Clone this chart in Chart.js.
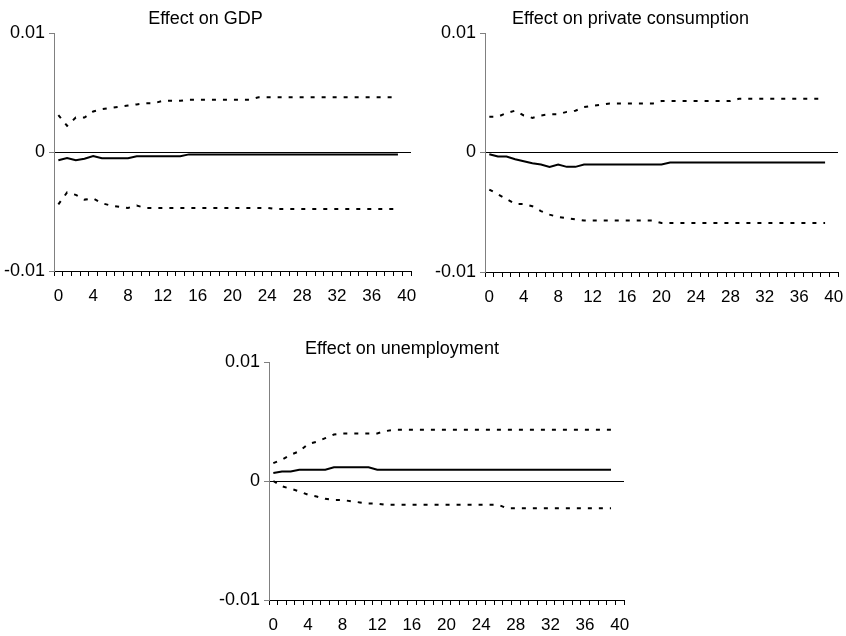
<!DOCTYPE html>
<html>
<head>
<meta charset="utf-8">
<script src="https://cdn.jsdelivr.net/npm/chart.js@4/dist/chart.umd.min.js"></script>
<style>
  html, body { margin: 0; padding: 0; background: #fff; overflow: hidden; }
  body { width: 846px; height: 636px; position: relative; }
  canvas { position: absolute; }
</style>
</head>
<body>
<canvas id="gdpChart" width="446" height="310" style="left:0px;top:0px;width:446px;height:310px"></canvas>
<canvas id="consChart" width="446" height="310" style="left:423px;top:0px;width:446px;height:310px"></canvas>
<canvas id="unempChart" width="486" height="316" style="left:180px;top:320px;width:486px;height:316px"></canvas>
<script>
// quarters after the shock (41 categories, data for 0..39)
var periods = ['0','1','2','3','4','5','6','7','8','9','10','11','12','13','14','15','16','17','18','19',
  '20','21','22','23','24','25','26','27','28','29','30','31','32','33','34','35','36','37','38','39','40'];
var yTicks = ['-0.01', '0', '0.01'];

// Effect on GDP
var gdpMid = [-0.0007,-0.0005,-0.0007,-0.00056,-0.00034,-0.00053,-0.00053,-0.00053,-0.00053,-0.00036,
  -0.00036,-0.00036,-0.00036,-0.00036,-0.00036,-0.0002,-0.0002,-0.0002,-0.0002,-0.0002,
  -0.0002,-0.0002,-0.0002,-0.0002,-0.0002,-0.0002,-0.0002,-0.0002,-0.0002,-0.0002,
  -0.0002,-0.0002,-0.0002,-0.0002,-0.0002,-0.0002,-0.0002,-0.0002,-0.0002,-0.0002];
var gdpUpper = [0.0031,0.0022,0.0029,0.0029,0.0034,0.0036,0.0037,0.0038,0.0039,0.004,
  0.0041,0.0041,0.0043,0.0043,0.0043,0.0044,0.0044,0.0044,0.0044,0.0044,
  0.0044,0.0044,0.0044,0.0046,0.0046,0.0046,0.0046,0.0046,0.0046,0.0046,
  0.0046,0.0046,0.0046,0.0046,0.0046,0.0046,0.0046,0.0046,0.0046,0.0046];
var gdpLower = [-0.0044,-0.0034,-0.0036,-0.004,-0.0039,-0.0043,-0.0045,-0.0046,-0.0047,-0.0045,
  -0.0047,-0.0047,-0.0047,-0.0047,-0.0047,-0.0047,-0.0047,-0.0047,-0.0047,-0.0047,
  -0.0047,-0.0047,-0.0047,-0.0047,-0.0047,-0.0048,-0.0048,-0.0048,-0.0048,-0.0048,
  -0.0048,-0.0048,-0.0048,-0.0048,-0.0048,-0.0048,-0.0048,-0.0048,-0.0048,-0.0048];

// Effect on private consumption
var consMid = [-0.00014,-0.00034,-0.00034,-0.00056,-0.00073,-0.0009,-0.001,-0.0012,-0.001,-0.0012,
  -0.0012,-0.001,-0.001,-0.001,-0.001,-0.001,-0.001,-0.001,-0.001,-0.001,
  -0.001,-0.00084,-0.00084,-0.00084,-0.00084,-0.00084,-0.00084,-0.00084,-0.00084,-0.00084,
  -0.00084,-0.00084,-0.00084,-0.00084,-0.00084,-0.00084,-0.00084,-0.00084,-0.00084,-0.00084];
var consUpper = [0.003,0.003,0.0033,0.0035,0.0031,0.0029,0.0031,0.0032,0.0032,0.0034,
  0.0035,0.0038,0.0039,0.004,0.0041,0.0041,0.0041,0.0041,0.0041,0.0041,
  0.0043,0.0043,0.0043,0.0043,0.0043,0.0043,0.0043,0.0043,0.0043,0.0045,
  0.0045,0.0045,0.0045,0.0045,0.0045,0.0045,0.0045,0.0045,0.0045,0.0045];
var consLower = [-0.0031,-0.0035,-0.0039,-0.0043,-0.0043,-0.0045,-0.0049,-0.0052,-0.0054,-0.0055,
  -0.0056,-0.0057,-0.0057,-0.0057,-0.0057,-0.0057,-0.0057,-0.0057,-0.0057,-0.0057,
  -0.0059,-0.0059,-0.0059,-0.0059,-0.0059,-0.0059,-0.0059,-0.0059,-0.0059,-0.0059,
  -0.0059,-0.0059,-0.0059,-0.0059,-0.0059,-0.0059,-0.0059,-0.0059,-0.0059,-0.0059];

// Effect on unemployment
var unempMid = [0.00067,0.0008,0.0008,0.00095,0.00095,0.00095,0.00095,0.00115,0.00115,0.00115,
  0.00115,0.00115,0.00095,0.00095,0.00095,0.00095,0.00095,0.00095,0.00095,0.00095,
  0.00095,0.00095,0.00095,0.00095,0.00095,0.00095,0.00095,0.00095,0.00095,0.00095,
  0.00095,0.00095,0.00095,0.00095,0.00095,0.00095,0.00095,0.00095,0.00095,0.00095];
var unempUpper = [0.0015,0.0018,0.0022,0.0025,0.0031,0.0033,0.0036,0.0039,0.004,0.004,
  0.004,0.004,0.004,0.0042,0.0043,0.0043,0.0043,0.0043,0.0043,0.0043,
  0.0043,0.0043,0.0043,0.0043,0.0043,0.0043,0.0043,0.0043,0.0043,0.0043,
  0.0043,0.0043,0.0043,0.0043,0.0043,0.0043,0.0043,0.0043,0.0043,0.0043];
var unempLower = [0,-0.00045,-0.00065,-0.00087,-0.00115,-0.0013,-0.0015,-0.0016,-0.0016,-0.0017,
  -0.0018,-0.0019,-0.0019,-0.002,-0.002,-0.002,-0.002,-0.002,-0.002,-0.002,
  -0.002,-0.002,-0.002,-0.002,-0.002,-0.002,-0.002,-0.0023,-0.0023,-0.0023,
  -0.0023,-0.0023,-0.0023,-0.0023,-0.0023,-0.0023,-0.0023,-0.0023,-0.0023,-0.0023];

var fontFamily = '"Liberation Sans", Arial, sans-serif';

function makePanel(id, title, mid, upper, lower, layout) {
  var ctx = document.getElementById(id).getContext('2d');
  return new Chart(ctx, {
    type: 'line',
    data: {
      labels: periods,
      datasets: [
        { data: upper, borderColor: '#000', borderWidth: 2, borderDash: [4, 7], pointRadius: 0, fill: false, tension: 0 },
        { data: mid, borderColor: '#000', borderWidth: 2, pointRadius: 0, fill: false, tension: 0 },
        { data: lower, borderColor: '#000', borderWidth: 2, borderDash: [4, 7], pointRadius: 0, fill: false, tension: 0 }
      ]
    },
    options: {
      responsive: false,
      animation: false,
      layout: { padding: { left: 0, top: 0, right: layout.right, bottom: layout.bottom } },
      plugins: {
        legend: { display: false },
        tooltip: { enabled: false },
        title: {
          display: true,
          text: title,
          color: '#000',
          font: { family: fontFamily, size: 18, weight: 'normal' },
          padding: { top: layout.titleTop, bottom: layout.titleBottom }
        }
      },
      scales: {
        x: {
          type: 'category',
          offset: true,
          grid: { offset: true, drawOnChartArea: false, tickLength: 5, tickColor: '#000' },
          border: { color: '#000', width: 1 },
          ticks: {
            autoSkip: false,
            maxRotation: 0,
            padding: 10,
            color: '#000',
            font: { family: fontFamily, size: 17 },
            callback: function (v, i) { return i % 4 === 0 ? periods[i] : ''; }
          },
          afterFit: function (scale) { scale.height = 30; }
        },
        y: {
          min: -0.01,
          max: 0.01,
          grid: {
            tickLength: 5,
            tickColor: '#808080',
            color: function (c) { return c.tick && c.tick.value === 0 ? '#000' : 'rgba(0,0,0,0)'; }
          },
          border: { color: '#808080', width: 1 },
          ticks: {
            stepSize: 0.01,
            padding: 4,
            color: '#000',
            font: { family: fontFamily, size: 18 },
            callback: function (v, i) { return yTicks[i]; }
          },
          afterFit: function (scale) { scale.width = layout.yWidth; }
        }
      }
    }
  });
}

var gdpChart = makePanel('gdpChart', 'Effect on GDP', gdpMid, gdpUpper, gdpLower,
  { right: 35, bottom: 9, yWidth: 54, titleTop: 8, titleBottom: 3.4 });
var consChart = makePanel('consChart', 'Effect on private consumption', consMid, consUpper, consLower,
  { right: 31, bottom: 8, yWidth: 62, titleTop: 8, titleBottom: 3.4 });
var unempChart = makePanel('unempChart', 'Effect on unemployment', unempMid, unempUpper, unempLower,
  { right: 42, bottom: 6, yWidth: 89, titleTop: 18.5, titleBottom: 1.9 });
</script>
</body>
</html>
